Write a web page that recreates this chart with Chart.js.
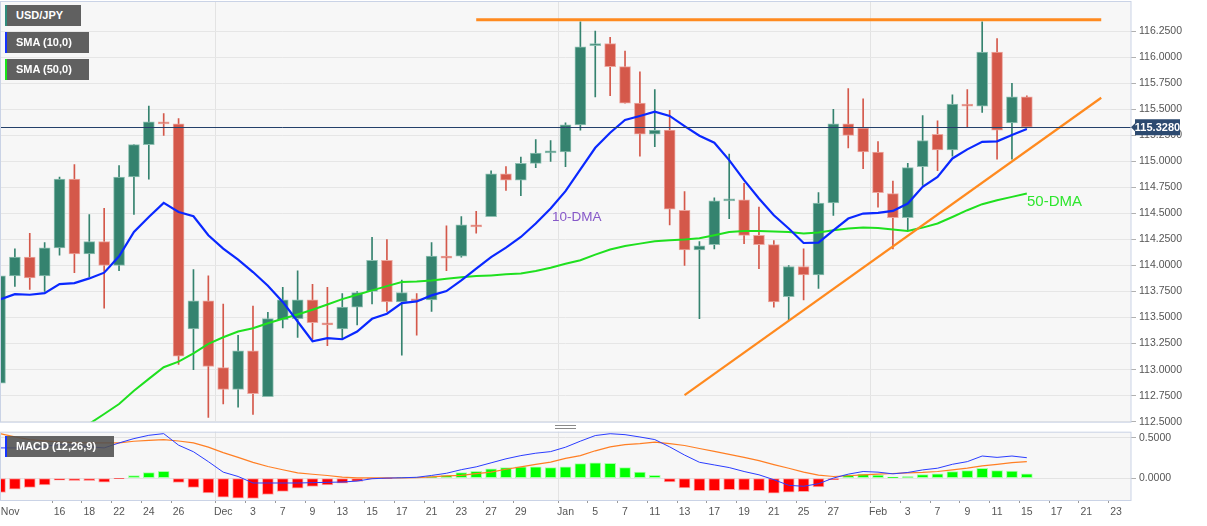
<!DOCTYPE html>
<html lang="en">
<head>
<meta charset="UTF-8">
<title>USD/JPY daily</title>
<style>
  body { margin: 0; background: #fff; font-family: "Liberation Sans", Arial, sans-serif; }
  #wrap { position: relative; width: 1207px; height: 526px; overflow: hidden; }
  canvas { position: absolute; left: 0; }
  .tag { position: absolute; left: 5px; height: 21px; line-height: 21px; background: #606060; color: #fff;
         font-weight: bold; font-size: 11px; padding-left: 9px; box-sizing: border-box; border-left: 2px solid; white-space: nowrap; }
  .note { position: absolute; white-space: nowrap; }
</style>
</head>
<body>
<div id="wrap">
  <canvas id="priceChart" width="1207" height="426" style="top:0"></canvas>
  <canvas id="macdChart" width="1207" height="104" style="top:422px"></canvas>

  <div class="tag" style="top:5px;width:76px;border-left-color:#2f8c7c">USD/JPY</div>
  <div class="tag" style="top:32px;width:84px;border-left-color:#1533ff">SMA (10,0)</div>
  <div class="tag" style="top:59px;width:84px;border-left-color:#19e619">SMA (50,0)</div>
  <div class="tag" style="top:436px;width:109px;border-left-color:#1533ff;background:rgba(80,80,80,0.88)">MACD (12,26,9)</div>

  <div class="note" style="left:552px;top:209px;font-size:13.5px;color:#8759c9">10-DMA</div>
  <div class="note" style="left:1027px;top:192px;font-size:15px;color:#2ee62e">50-DMA</div>
</div>

<script src="https://cdn.jsdelivr.net/npm/chart.js"></script>
<script>
// trading days, Nov 10 2021 .. Feb 24 2022 (last 7 are empty future days)
const dates = [
  '11-10','11-11','11-12','11-15','11-16','11-17','11-18','11-19','11-22','11-23','11-24','11-25','11-26','11-29','11-30',
  '12-01','12-02','12-03','12-06','12-07','12-08','12-09','12-10','12-13','12-14','12-15','12-16','12-17','12-20','12-21',
  '12-22','12-23','12-24','12-27','12-28','12-29','12-30','12-31',
  '01-03','01-04','01-05','01-06','01-07','01-10','01-11','01-12','01-13','01-14','01-17','01-18','01-19','01-20','01-21',
  '01-24','01-25','01-26','01-27','01-28','01-31',
  '02-01','02-02','02-03','02-04','02-07','02-08','02-09','02-10','02-11','02-14','02-15',
  '02-16','02-17','02-18','02-21','02-22','02-23','02-24'
];

const tickDates = ['11-10','11-16','11-18','11-22','11-24','11-26','12-01','12-03','12-07','12-09','12-13','12-15','12-17',
  '12-21','12-23','12-27','12-29','01-03','01-05','01-07','01-11','01-13','01-17','01-19','01-21','01-25','01-27',
  '02-01','02-03','02-07','02-09','02-11','02-15','02-17','02-21','02-23'];
const tickText = ['Nov','16','18','22','24','26','Dec','3','7','9','13','15','17','21','23','27','29',
  'Jan','5','7','11','13','17','19','21','25','27','Feb','3','7','9','11','15','17','21','23'];
const monthDates = ['12-01','01-03','02-01'];

const priceTicks = [112.5,112.75,113.0,113.25,113.5,113.75,114.0,114.25,114.5,114.75,115.0,115.25,115.5,115.75,116.0,116.25];
const macdTicks = [0, 0.5];

const opens = [112.87,113.90,114.08,113.90,114.17,114.83,114.11,114.23,114.00,114.85,115.16,115.38,115.36,113.39,113.66,
  113.02,112.81,113.18,112.74,113.48,113.49,113.67,113.45,113.39,113.60,113.75,114.05,113.65,113.68,113.67,
  114.09,114.09,114.39,114.47,114.88,114.82,114.98,115.08,
  115.09,115.35,116.11,116.13,115.91,115.56,115.26,115.30,114.53,114.15,114.20,114.62,114.63,114.29,114.20,
  113.70,113.99,113.91,114.60,115.36,115.32,
  115.09,114.69,114.46,114.95,115.26,115.11,115.55,115.53,116.05,115.37,115.62];
const highs = [114.02,114.16,114.31,114.22,114.85,114.97,114.49,114.55,114.96,115.16,115.53,115.46,115.41,113.96,113.90,
  113.63,113.33,113.61,113.55,113.79,113.95,113.82,113.79,113.73,113.75,114.27,114.25,113.86,113.73,114.22,
  114.38,114.47,114.52,114.91,114.95,115.04,115.21,115.20,
  115.37,116.34,116.25,116.19,116.06,115.86,115.69,115.49,114.71,114.23,114.65,115.07,114.79,114.56,114.24,
  114.00,114.16,114.70,115.50,115.70,115.60,
  115.19,114.81,114.98,115.44,115.39,115.64,115.69,116.34,116.18,115.75,115.63];
const lows = [112.77,113.80,113.77,113.75,114.10,113.93,113.89,113.59,113.95,114.49,114.83,115.25,113.05,113.00,112.54,
  112.67,112.64,112.57,112.74,113.40,113.31,113.29,113.23,113.29,113.43,113.63,113.56,113.14,113.33,113.56,
  113.95,114.08,114.31,114.47,114.72,114.67,114.94,115.00,
  114.95,115.30,115.62,115.63,115.56,115.05,115.14,114.39,114.00,113.49,114.16,114.45,114.21,113.97,113.60,
  113.47,113.67,113.78,114.48,115.13,114.93,
  114.56,114.16,114.34,114.77,114.91,115.05,115.33,115.47,115.02,115.02,115.32];
const closes = [113.90,114.08,113.88,114.17,114.83,114.11,114.23,114.00,114.85,115.16,115.38,115.36,113.13,113.66,113.03,
  112.81,113.18,112.77,113.49,113.67,113.67,113.45,113.43,113.60,113.74,114.05,113.65,113.74,113.66,114.09,
  114.07,114.39,114.37,114.88,114.82,114.98,115.08,115.10,
  115.35,116.10,116.13,115.91,115.56,115.26,115.30,114.54,114.15,114.19,114.62,114.64,114.29,114.20,113.65,
  113.99,113.91,114.60,115.36,115.25,115.09,
  114.70,114.46,114.94,115.20,115.11,115.55,115.53,116.05,115.30,115.62,115.328];

const sma10 = [113.674,113.725,113.719,113.735,113.821,113.831,113.876,113.931,114.088,114.322,114.466,114.601,114.514,114.473,114.290,
  114.162,114.056,113.937,113.806,113.650,113.462,113.273,113.302,113.292,113.366,113.488,113.537,113.639,113.655,113.713,
  113.754,113.857,113.970,114.081,114.172,114.274,114.403,114.547,
  114.714,114.923,115.130,115.275,115.397,115.436,115.477,115.436,115.339,115.246,115.179,115.012,114.820,114.643,114.483,
  114.355,114.216,114.220,114.338,114.451,114.499,
  114.505,114.524,114.595,114.755,114.851,115.028,115.115,115.188,115.192,115.253,115.310];
const sma50 = [null,null,null,null,null,null,112.48,112.574,112.670,112.798,112.911,113.023,113.077,113.157,113.248,
  113.311,113.366,113.398,113.446,113.488,113.530,113.575,113.626,113.677,113.719,113.761,113.802,113.841,113.847,113.857,
  113.873,113.886,113.898,113.905,113.915,113.924,113.947,113.979,
  114.016,114.050,114.104,114.153,114.187,114.210,114.232,114.242,114.249,114.261,114.290,114.322,114.332,114.332,114.326,
  114.322,114.307,114.316,114.338,114.355,114.364,
  114.360,114.345,114.332,114.364,114.403,114.466,114.531,114.589,114.627,114.659,114.692];

// hand-drawn trend lines
const resistanceDates = ['12-24','02-22'];
const resistanceVals = [116.36,116.36];
const supportDates = ['01-13','02-22'];
const supportVals = [112.756,115.611];

// MACD (12,26,9)
const macdLine = [0.376,0.376,0.380,0.396,0.417,0.410,0.390,0.376,0.438,0.492,0.533,0.554,0.410,0.328,0.205,
  0.074,0.020,-0.061,-0.061,-0.061,-0.061,-0.057,-0.053,-0.049,-0.037,-0.008,0.000,0.004,0.010,0.033,
  0.060,0.105,0.140,0.190,0.240,0.280,0.310,0.330,
  0.385,0.460,0.530,0.553,0.541,0.512,0.480,0.389,0.287,0.197,0.164,0.131,0.082,0.041,-0.020,
  -0.090,-0.102,-0.070,0.000,0.049,0.082,
  0.074,0.053,0.070,0.102,0.123,0.172,0.205,0.275,0.258,0.275,0.254];
const signalLine = [0.554,0.513,0.480,0.463,0.450,0.442,0.438,0.438,0.438,0.459,0.471,0.480,0.462,0.438,0.385,
  0.318,0.258,0.195,0.144,0.104,0.064,0.048,0.032,0.013,0.003,0.002,0.003,0.001,0.004,0.015,
  0.027,0.035,0.055,0.075,0.110,0.140,0.170,0.200,
  0.245,0.280,0.340,0.389,0.418,0.430,0.447,0.430,0.406,0.369,0.332,0.295,0.258,0.217,0.168,
  0.123,0.074,0.037,0.020,0.029,0.041,
  0.049,0.057,0.066,0.070,0.082,0.102,0.123,0.152,0.172,0.193,0.205];
const histogram = [-0.180,-0.138,-0.115,-0.085,-0.027,-0.031,-0.031,-0.051,-0.006,0.031,0.068,0.083,-0.055,-0.115,-0.185,
  -0.238,-0.250,-0.254,-0.205,-0.165,-0.125,-0.105,-0.085,-0.062,-0.040,-0.010,-0.003,0.003,0.006,0.018,
  0.033,0.070,0.085,0.115,0.130,0.140,0.140,0.130,
  0.140,0.180,0.190,0.184,0.131,0.074,0.033,-0.049,-0.123,-0.156,-0.156,-0.143,-0.152,-0.156,-0.189,
  -0.176,-0.168,-0.110,-0.020,0.041,0.049,
  0.037,0.012,0.020,0.045,0.053,0.082,0.094,0.123,0.094,0.086,0.053];

Chart.defaults.font.family = '"Liberation Sans", Arial, sans-serif';

const GREEN = '#35836f', RED = '#d4584a';
const up = opens.map((o, i) => closes[i] >= o);
const bodies = opens.map((o, i) => Math.abs(closes[i] - o) < 0.02 ? [o, o + (up[i] ? 0.02 : -0.02)] : [o, closes[i]]);
const wicks = lows.map((l, i) => [l, highs[i]]);
const lastPrice = closes[closes.length - 1];

function isMonth(ctx) { return ctx.tick && monthDates.includes(dates[ctx.index]); }

// use only the listed tick values
function useTicks(list) {
  return function (scale) { scale.ticks = list.map(v => ({ value: v })); };
}

// fixed axis width, no label overflow padding
function fitY(s) { s.width = 76; s.paddingTop = 0; s.paddingBottom = 0; }

const panel = {
  id: 'panel',
  beforeDraw(chart) {
    const { ctx, chartArea: a } = chart;
    ctx.save();
    ctx.fillStyle = '#f7f7f7';
    ctx.fillRect(a.left, a.top, a.right - a.left, a.bottom - a.top);
    ctx.restore();
  },
  afterDraw(chart) {
    const { ctx, chartArea: a } = chart;
    ctx.save();
    ctx.strokeStyle = '#cad3e6';
    ctx.lineWidth = 1;
    ctx.strokeRect(a.left + 0.5, a.top + 0.5, a.right - a.left - 0.5, a.bottom - a.top);
    ctx.restore();
  }
};

const priceTag = {
  id: 'priceTag',
  afterDatasetsDraw(chart) {
    const { ctx, chartArea: a, scales: { y } } = chart;
    const py = Math.round(y.getPixelForValue(lastPrice)) + 0.5;
    ctx.save();
    ctx.strokeStyle = '#24406a';
    ctx.lineWidth = 1;
    ctx.beginPath();
    ctx.moveTo(a.left, py);
    ctx.lineTo(a.right, py);
    ctx.stroke();
    ctx.restore();
  },
  afterDraw(chart) {
    const { ctx, chartArea: a, scales: { y } } = chart;
    const py = y.getPixelForValue(lastPrice);
    const x0 = a.right + 4, x1 = a.right + 49, h = 8;
    ctx.save();
    ctx.fillStyle = '#2c4a70';
    ctx.beginPath();
    ctx.moveTo(a.right, py);
    ctx.lineTo(x0, py - 4);
    ctx.lineTo(x0, py - h);
    ctx.lineTo(x1, py - h);
    ctx.lineTo(x1, py + h);
    ctx.lineTo(x0, py + h);
    ctx.lineTo(x0, py + 4);
    ctx.closePath();
    ctx.fill();
    ctx.fillStyle = '#fff';
    ctx.font = 'bold 11px "Liberation Sans", Arial';
    ctx.textAlign = 'center';
    ctx.textBaseline = 'middle';
    ctx.fillText(lastPrice.toFixed(4), (x0 + x1) / 2, py + 0.5);
    ctx.restore();
  }
};

const handle = {
  id: 'handle',
  afterDraw(chart) {
    const { ctx } = chart;
    ctx.save();
    ctx.strokeStyle = '#8a8a8a';
    ctx.lineWidth = 1;
    [3.5, 6.5].forEach(yy => {
      ctx.beginPath();
      ctx.moveTo(555, yy);
      ctx.lineTo(576, yy);
      ctx.stroke();
    });
    ctx.restore();
  }
};

new Chart(document.getElementById('priceChart'), {
  type: 'bar',
  data: {
    labels: dates,
    datasets: [
      {
        type: 'line', label: 'Resistance', order: 0,
        data: resistanceDates.map((d, i) => ({ x: d, y: resistanceVals[i] })),
        borderColor: '#ff8a1f', borderWidth: 3, pointRadius: 0, spanGaps: true
      },
      {
        type: 'line', label: 'Support', order: 0,
        data: supportDates.map((d, i) => ({ x: d, y: supportVals[i] })),
        borderColor: '#ff8a1f', borderWidth: 2.2, pointRadius: 0, spanGaps: true
      },
      {
        type: 'line', label: 'SMA (10,0)', order: 1, data: sma10,
        borderColor: '#0a28ff', borderWidth: 2.2, pointRadius: 0, tension: 0
      },
      {
        type: 'line', label: 'SMA (50,0)', order: 2, data: sma50,
        borderColor: '#1fe01f', borderWidth: 2, pointRadius: 0, tension: 0
      },
      {
        label: 'Body', order: 3, data: bodies, grouped: false, barThickness: 11,
        backgroundColor: up.map(u => u ? GREEN : RED),
        borderColor: up.map(u => u ? '#8fc0b2' : '#eca79f'),
        borderWidth: 1, borderSkipped: false
      },
      {
        label: 'Wick', order: 4, data: wicks, grouped: false, barThickness: 1,
        backgroundColor: up.map(u => u ? GREEN : RED), borderWidth: 0
      }
    ]
  },
  options: {
    responsive: false,
    animation: false,
    events: [],
    layout: { padding: { top: 1, left: 0, right: 0, bottom: 0 } },
    plugins: { legend: { display: false }, tooltip: { enabled: false } },
    scales: {
      x: {
        offset: false,
        ticks: { display: false },
        grid: { color: ctx => isMonth(ctx) ? '#e3e3e3' : 'rgba(0,0,0,0)', drawTicks: false },
        border: { display: false },
        afterFit(s) { s.height = 4.3; s.paddingLeft = 0; s.paddingRight = 0; }
      },
      y: {
        position: 'right',
        min: 112.5, max: 116.54,
        afterBuildTicks: useTicks(priceTicks),
        ticks: { callback: v => Number(v).toFixed(4), color: '#555', font: { size: 10.5 }, padding: 3, autoSkip: false },
        grid: { color: '#e6e6e6', tickLength: 5, tickColor: '#b0b0b0' },
        border: { display: false },
        afterFit: fitY
      }
    }
  },
  plugins: [panel, priceTag]
});

new Chart(document.getElementById('macdChart'), {
  type: 'bar',
  data: {
    labels: dates,
    datasets: [
      {
        type: 'line', label: 'MACD', order: 0, data: macdLine,
        borderColor: '#2a3cff', borderWidth: 1, pointRadius: 0, tension: 0
      },
      {
        type: 'line', label: 'Signal', order: 0, data: signalLine,
        borderColor: '#ff7f24', borderWidth: 1.2, pointRadius: 0, tension: 0
      },
      {
        label: 'Histogram', order: 1, data: histogram, barThickness: 11,
        backgroundColor: histogram.map(v => v >= 0 ? '#00ff00' : '#ff0000'),
        borderColor: histogram.map(v => v >= 0 ? '#a6ffa6' : '#ffa6a6'),
        borderWidth: 1, borderSkipped: false
      }
    ]
  },
  options: {
    responsive: false,
    animation: false,
    events: [],
    layout: { padding: { top: 9.7, left: 0, right: 0, bottom: 0 } },
    plugins: { legend: { display: false }, tooltip: { enabled: false } },
    scales: {
      x: {
        offset: false,
        ticks: {
          autoSkip: false, maxRotation: 0, color: '#555', font: { size: 10.5 }, padding: 3,
          callback: (v, i) => {
            const k = tickDates.indexOf(dates[i]);
            if (k < 0) return '';
            return k === 0 ? '\u00a0\u00a0\u00a0\u00a0\u00a0\u00a0\u00a0' + tickText[k] : tickText[k];
          }
        },
        grid: {
          color: ctx => isMonth(ctx) ? '#e3e3e3' : 'rgba(0,0,0,0)',
          tickColor: ctx => (ctx.tick && tickDates.includes(dates[ctx.index])) ? '#9a9a9a' : 'rgba(0,0,0,0)',
          tickLength: 3
        },
        border: { display: false },
        afterFit(s) { s.height = 26; s.paddingLeft = 0; s.paddingRight = 0; }
      },
      y: {
        position: 'right',
        min: -0.273, max: 0.578,
        afterBuildTicks: useTicks(macdTicks),
        ticks: { callback: v => Number(v).toFixed(4), color: '#555', font: { size: 10.5 }, padding: 3, autoSkip: false },
        grid: { color: '#e3e3e3', tickLength: 5, tickColor: '#b0b0b0' },
        border: { display: false },
        afterFit: fitY
      }
    }
  },
  plugins: [panel, handle]
});
</script>
</body>
</html>
